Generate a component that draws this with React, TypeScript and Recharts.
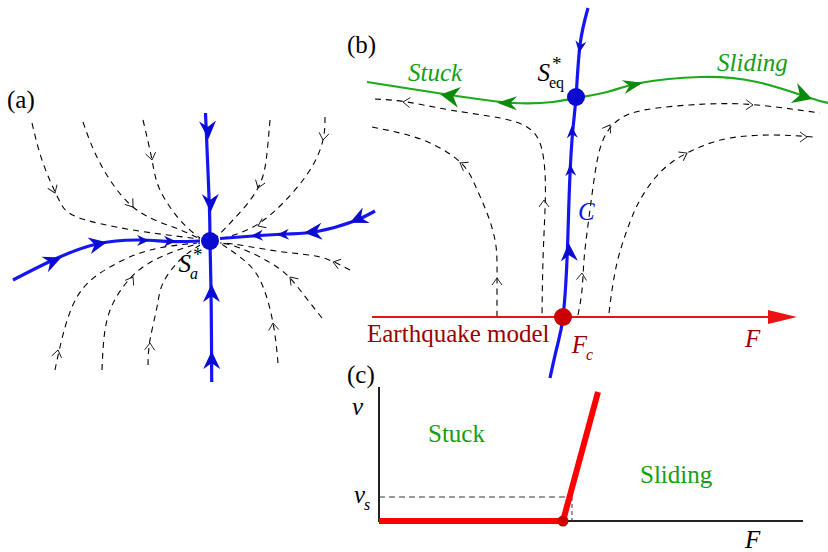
import React from 'react'
import { ComposedChart, Line, Scatter, XAxis, YAxis } from 'recharts'

type Pt = { x: number; y: number }
type Arrow = Pt & { dx: number; dy: number }
type Label = Pt & { text: string; kind: string; sub?: string; sup?: string }

// ---- panel (a): node S_a* ----
const blueUpA: Pt[] = [{ x: 205.5, y: 113 }, { x: 207.5, y: 160 }, { x: 209.5, y: 210 }, { x: 210, y: 241 }]
const blueDownA: Pt[] = [{ x: 210, y: 241 }, { x: 211, y: 290 }, { x: 211.5, y: 340 }, { x: 211.7, y: 382 }]
const blueLeftA: Pt[] = [{ x: 13, y: 280 }, { x: 53, y: 260 }, { x: 97, y: 244 }, { x: 140, y: 240 }, { x: 170, y: 241.5 }, { x: 200, y: 241 }]
const blueRightA: Pt[] = [{ x: 220, y: 238.5 }, { x: 253, y: 236 }, { x: 287, y: 234 }, { x: 317, y: 231.5 }, { x: 353, y: 221.5 }, { x: 375, y: 211 }]

const flowA1: Pt[] = [{ x: 32, y: 123 }, { x: 43, y: 163 }, { x: 58, y: 198 }, { x: 77, y: 217 }, { x: 133, y: 230 }, { x: 200, y: 239 }]
const flowA2: Pt[] = [{ x: 83, y: 122 }, { x: 100, y: 163 }, { x: 133, y: 207 }, { x: 173, y: 227 }, { x: 200, y: 239 }]
const flowA3: Pt[] = [{ x: 143, y: 120 }, { x: 152, y: 160 }, { x: 160, y: 190 }, { x: 180, y: 220 }, { x: 200, y: 238 }]
const flowA4: Pt[] = [{ x: 270, y: 120 }, { x: 267, y: 153 }, { x: 258, y: 188 }, { x: 233, y: 220 }, { x: 217, y: 237 }]
const flowA5: Pt[] = [{ x: 325, y: 117 }, { x: 323, y: 140 }, { x: 310, y: 170 }, { x: 283, y: 203 }, { x: 253, y: 227 }, { x: 220, y: 239 }]
const flowA6: Pt[] = [{ x: 55, y: 370 }, { x: 60, y: 347 }, { x: 77, y: 297 }, { x: 110, y: 267 }, { x: 150, y: 250 }, { x: 197, y: 243 }]
const flowA7: Pt[] = [{ x: 102, y: 370 }, { x: 107, y: 320 }, { x: 123, y: 287 }, { x: 143, y: 267 }, { x: 170, y: 253 }, { x: 200, y: 243 }]
const flowA8: Pt[] = [{ x: 148, y: 365 }, { x: 150, y: 340 }, { x: 157, y: 307 }, { x: 163, y: 283 }, { x: 180, y: 260 }, { x: 200, y: 245 }]
const flowA9: Pt[] = [{ x: 278, y: 363 }, { x: 273, y: 323 }, { x: 260, y: 280 }, { x: 240, y: 257 }, { x: 220, y: 243 }]
const flowA10: Pt[] = [{ x: 322, y: 318 }, { x: 300, y: 290 }, { x: 277, y: 267 }, { x: 240, y: 248 }, { x: 220, y: 243 }]
const flowA11: Pt[] = [{ x: 350, y: 270 }, { x: 320, y: 257 }, { x: 283, y: 252 }, { x: 240, y: 245 }, { x: 220, y: 243 }]

// ---- panel (b): curve C and the equilibrium S_eq* ----
const curveC: Pt[] = [{ x: 588, y: 8 }, { x: 580, y: 45 }, { x: 576, y: 97 }, { x: 572, y: 140 }, { x: 569, y: 200 }, { x: 567, y: 260 }, { x: 563, y: 317 }, { x: 557, y: 347 }, { x: 550, y: 378 }]
const greenCurve: Pt[] = [{ x: 367, y: 82 }, { x: 450, y: 95 }, { x: 513, y: 103 }, { x: 553, y: 102 }, { x: 576, y: 98 }, { x: 607, y: 92 }, { x: 640, y: 83 }, { x: 700, y: 77 }, { x: 757, y: 82 }, { x: 807, y: 97 }, { x: 828, y: 103 }]

const flowB1: Pt[] = [{ x: 375, y: 99 }, { x: 407, y: 102 }, { x: 450, y: 110 }, { x: 500, y: 118 }, { x: 527, y: 127 }, { x: 540, y: 143 }, { x: 545, y: 173 }, { x: 545, y: 210 }, { x: 543, y: 260 }, { x: 542, y: 317 }]
const flowB2: Pt[] = [{ x: 372, y: 127 }, { x: 423, y: 140 }, { x: 460, y: 162 }, { x: 475, y: 185 }, { x: 487, y: 213 }, { x: 495, y: 240 }, { x: 497, y: 263 }, { x: 497, y: 290 }, { x: 497, y: 317 }]
const flowB3: Pt[] = [{ x: 578, y: 315 }, { x: 582, y: 290 }, { x: 584, y: 260 }, { x: 588, y: 225 }, { x: 594, y: 180 }, { x: 603, y: 140 }, { x: 623, y: 117 }, { x: 657, y: 108 }, { x: 707, y: 104 }, { x: 757, y: 105 }, { x: 820, y: 113 }]
const flowB4: Pt[] = [{ x: 609, y: 313 }, { x: 617, y: 263 }, { x: 630, y: 222 }, { x: 640, y: 200 }, { x: 655, y: 178 }, { x: 675, y: 160 }, { x: 700, y: 147 }, { x: 730, y: 138 }, { x: 773, y: 135 }, { x: 813, y: 137 }]

const forceAxis: Pt[] = [{ x: 372, y: 317 }, { x: 775, y: 317 }]
const forceTip: Arrow[] = [{ x: 797, y: 317, dx: 1, dy: 0 }]

// ---- panel (c): friction law ----
const axisV: Pt[] = [{ x: 379, y: 387 }, { x: 379, y: 522 }]
const axisF: Pt[] = [{ x: 379, y: 521 }, { x: 803, y: 521 }]
const frictionLaw: Pt[] = [{ x: 379, y: 521 }, { x: 563, y: 521 }, { x: 598, y: 392 }]
const vsGuideH: Pt[] = [{ x: 379, y: 497 }, { x: 572, y: 497 }]
const vsGuideV: Pt[] = [{ x: 572, y: 497 }, { x: 572, y: 521 }]

// ---- markers ----
const blueNodes: Pt[] = [{ x: 210, y: 241 }, { x: 576, y: 97 }]
const redNodeB: Pt[] = [{ x: 563, y: 317 }]
const redNodeC: Pt[] = [{ x: 563, y: 521 }]

const blueArrowsBig: Arrow[] = [
  { x: 208, y: 130, dx: 0.05, dy: 1 }, { x: 210.5, y: 203, dx: 0.02, dy: 1 },
  { x: 211.5, y: 293, dx: 0, dy: -1 }, { x: 211.7, y: 360, dx: 0, dy: -1 },
  { x: 53, y: 261, dx: 1, dy: -0.42 }, { x: 98, y: 244, dx: 1, dy: -0.2 },
  { x: 313, y: 232, dx: -1, dy: 0.08 }, { x: 358, y: 219, dx: -1, dy: 0.45 },
  { x: 569, y: 252, dx: -0.04, dy: -1 },
]
const blueArrowsSmall: Arrow[] = [
  { x: 143, y: 240.5, dx: 1, dy: 0 }, { x: 170, y: 241.3, dx: 1, dy: 0 },
  { x: 257, y: 235.5, dx: -1, dy: 0.05 }, { x: 283, y: 234.5, dx: -1, dy: 0.05 },
  { x: 580, y: 47, dx: -0.15, dy: 1 }, { x: 572, y: 132, dx: -0.06, dy: -1 }, { x: 570.5, y: 170, dx: -0.05, dy: -1 },
]
const greenArrowsBig: Arrow[] = [{ x: 450, y: 96, dx: -1, dy: -0.15 }, { x: 803, y: 96, dx: 1, dy: 0.32 }]
const greenArrowsSmall: Arrow[] = [{ x: 507, y: 103, dx: -1, dy: -0.03 }, { x: 633, y: 85, dx: 1, dy: -0.22 }]

const flowArrows: Arrow[] = [
  { x: 55, y: 193, dx: 0.4, dy: 1 }, { x: 133, y: 207, dx: 0.75, dy: 1 }, { x: 152, y: 160, dx: 0.2, dy: 1 },
  { x: 258, y: 188, dx: -0.35, dy: 1 }, { x: 323, y: 140, dx: -0.15, dy: 1 }, { x: 258, y: 226, dx: -1, dy: 0.45 },
  { x: 58, y: 350, dx: 0.2, dy: -1 }, { x: 133, y: 277, dx: 0.6, dy: -1 }, { x: 150, y: 343, dx: 0.05, dy: -1 },
  { x: 273, y: 323, dx: -0.1, dy: -1 }, { x: 290, y: 277, dx: -0.9, dy: -1 }, { x: 333, y: 262, dx: -1, dy: -0.3 },
  { x: 403, y: 102, dx: -1, dy: -0.08 }, { x: 544, y: 200, dx: 0, dy: -1 },
  { x: 460, y: 163, dx: -1, dy: -0.6 }, { x: 497, y: 278, dx: 0, dy: -1 },
  { x: 582, y: 273, dx: 0.08, dy: -1 }, { x: 610, y: 125, dx: 0.6, dy: -1 }, { x: 753, y: 105, dx: 1, dy: 0.04 },
  { x: 687, y: 153, dx: 1, dy: -0.55 }, { x: 807, y: 137, dx: 1, dy: 0 },
]

const labels: Label[] = [
  { x: 7, y: 107.5, text: '(a)', kind: 'plain' },
  { x: 347, y: 52.5, text: '(b)', kind: 'plain' },
  { x: 347, y: 382.5, text: '(c)', kind: 'plain' },
  { x: 408, y: 81, text: 'Stuck', kind: 'greenItalic' },
  { x: 717, y: 71, text: 'Sliding', kind: 'greenItalic' },
  { x: 578, y: 220, text: 'C', kind: 'blueItalic' },
  { x: 367, y: 341.5, text: 'Earthquake model', kind: 'darkred' },
  { x: 745, y: 347, text: 'F', kind: 'darkredItalic' },
  { x: 352, y: 415, text: 'v', kind: 'italic' },
  { x: 745, y: 548, text: 'F', kind: 'italic' },
  { x: 428, y: 441.5, text: 'Stuck', kind: 'green' },
  { x: 640, y: 483, text: 'Sliding', kind: 'green' },
]
const scriptLabels: Label[] = [
  { x: 191, y: 272, text: 'S', kind: 'italic', sub: 'a', sup: '*' },
  { x: 550, y: 81, text: 'S', kind: 'italic', sub: 'eq', sup: '*' },
  { x: 587, y: 353, text: 'F', kind: 'darkredItalic', sub: 'c' },
  { x: 365, y: 503, text: 'v', kind: 'italic', sub: 's' },
]

const SERIF = 'Liberation Serif, DejaVu Serif, Times New Roman, serif'
const KIND: Record<string, { color: string; italic: boolean }> = {
  plain: { color: '#000', italic: false },
  italic: { color: '#000', italic: true },
  green: { color: '#12a012', italic: false },
  greenItalic: { color: '#12a012', italic: true },
  blueItalic: { color: '#1212e6', italic: true },
  darkred: { color: '#990000', italic: false },
  darkredItalic: { color: '#990000', italic: true },
}

const BLUE = '#1515f2'
const BLUE_DARK = '#0a0ad0'
const GREEN = '#1caa1c'
const GREEN_DARK = '#0c8a0c'

const stealth = (len: number, wid: number, fill: string) => (props: any) => {
  const { cx, cy, payload } = props
  if (cx == null || cy == null) return <g />
  const a = (Math.atan2(payload.dy, payload.dx) * 180) / Math.PI
  const l = len / 2
  const w = wid / 2
  return (
    <path
      d={`M ${l} 0 L ${-l} ${-w} Q ${-l * 0.55} ${-w * 0.3} ${-l * 0.35} 0 Q ${-l * 0.55} ${w * 0.3} ${-l} ${w} Z`}
      fill={fill}
      transform={`translate(${cx},${cy}) rotate(${a})`}
    />
  )
}

const openArrow = (props: any) => {
  const { cx, cy, payload } = props
  if (cx == null || cy == null) return <g />
  const a = (Math.atan2(payload.dy, payload.dx) * 180) / Math.PI
  return (
    <path d="M -7 -5 L 0 0 L -7 5" fill="none" stroke="#111" strokeWidth={0.9} transform={`translate(${cx},${cy}) rotate(${a})`} />
  )
}

const triangleTip = (props: any) => {
  const { cx, cy } = props
  if (cx == null || cy == null) return <g />
  return <path d="M 0 0 L -29 -7 L -29 7 Z" fill="#ee1111" transform={`translate(${cx},${cy})`} />
}

const dot = (r: number, fill: string) => (props: any) => {
  const { cx, cy } = props
  if (cx == null || cy == null) return <g />
  return <circle cx={cx} cy={cy} r={r} fill={fill} />
}

const textLabel = (props: any) => {
  const { cx, cy, payload } = props
  if (cx == null || cy == null) return <g />
  const k = KIND[payload.kind]
  return (
    <text x={cx} y={cy} fill={k.color} style={{ fontFamily: SERIF, fontSize: 25, fontStyle: k.italic ? 'italic' : 'normal' }}>
      {payload.text}
    </text>
  )
}

const scriptLabel = (props: any) => {
  const { cx, cy, payload } = props
  if (cx == null || cy == null) return <g />
  const k = KIND[payload.kind]
  const subItalic = payload.sub !== 'eq'
  return (
    <g fill={k.color}>
      <text x={cx} y={cy} textAnchor="end" style={{ fontFamily: SERIF, fontSize: 25, fontStyle: k.italic ? 'italic' : 'normal' }}>
        {payload.text}
      </text>
      {payload.sub && (
        <text x={cx - 1} y={cy + 7} style={{ fontFamily: SERIF, fontSize: 16, fontStyle: subItalic ? 'italic' : 'normal' }}>
          {payload.sub}
        </text>
      )}
      {payload.sup && (
        <text x={cx + 2} y={cy - 11.5} style={{ fontFamily: SERIF, fontSize: 19 }}>
          {payload.sup}
        </text>
      )}
    </g>
  )
}

const flowCurves = [flowA1, flowA2, flowA3, flowA4, flowA5, flowA6, flowA7, flowA8, flowA9, flowA10, flowA11, flowB1, flowB2, flowB3, flowB4]
const blueCurves = [blueUpA, blueDownA, blueLeftA, blueRightA]

export default function App() {
  return (
    <div style={{ position: 'absolute', left: 0, top: 0, width: 828, height: 552, background: '#fff' }}>
      <ComposedChart width={828} height={552} margin={{ top: 0, right: 0, bottom: 0, left: 0 }}>
        <XAxis type="number" dataKey="x" domain={[0, 828]} allowDataOverflow hide />
        <YAxis type="number" dataKey="y" domain={[0, 552]} allowDataOverflow reversed hide />

        {/* dashed trajectories */}
        {flowCurves.map((c, i) => (
          <Line key={`f${i}`} data={c} dataKey="y" type="natural" stroke="#000" strokeWidth={1.1} strokeDasharray="6 5" dot={false} activeDot={false} isAnimationActive={false} />
        ))}

        {/* panel (c) */}
        <Line data={axisV} dataKey="y" type="linear" stroke="#222" strokeWidth={2} dot={false} activeDot={false} isAnimationActive={false} />
        <Line data={axisF} dataKey="y" type="linear" stroke="#222" strokeWidth={2} dot={false} activeDot={false} isAnimationActive={false} />
        <Line data={vsGuideH} dataKey="y" type="linear" stroke="#333" strokeWidth={1} strokeDasharray="6 4" dot={false} activeDot={false} isAnimationActive={false} />
        <Line data={vsGuideV} dataKey="y" type="linear" stroke="#333" strokeWidth={1} strokeDasharray="4 3" dot={false} activeDot={false} isAnimationActive={false} />
        <Line data={frictionLaw} dataKey="y" type="linear" stroke="#ff0000" strokeWidth={6} dot={false} activeDot={false} isAnimationActive={false} />

        {/* force axis */}
        <Line data={forceAxis} dataKey="y" type="linear" stroke="#ee1111" strokeWidth={2.2} dot={false} activeDot={false} isAnimationActive={false} />
        <Scatter data={forceTip} shape={triangleTip} isAnimationActive={false} />

        {/* solid orbits */}
        {blueCurves.map((c, i) => (
          <Line key={`b${i}`} data={c} dataKey="y" type="natural" stroke={BLUE} strokeWidth={3.2} dot={false} activeDot={false} isAnimationActive={false} />
        ))}
        <Line data={greenCurve} dataKey="y" type="natural" stroke={GREEN} strokeWidth={2.2} dot={false} activeDot={false} isAnimationActive={false} />
        <Line data={curveC} dataKey="y" type="natural" stroke={BLUE} strokeWidth={3.2} dot={false} activeDot={false} isAnimationActive={false} />

        {/* arrowheads */}
        <Scatter data={flowArrows} shape={openArrow} isAnimationActive={false} />
        <Scatter data={blueArrowsBig} shape={stealth(18, 17, BLUE_DARK)} isAnimationActive={false} />
        <Scatter data={blueArrowsSmall} shape={stealth(12, 11, BLUE_DARK)} isAnimationActive={false} />
        <Scatter data={greenArrowsBig} shape={stealth(19, 21, GREEN_DARK)} isAnimationActive={false} />
        <Scatter data={greenArrowsSmall} shape={stealth(20, 14, GREEN_DARK)} isAnimationActive={false} />

        {/* equilibria */}
        <Scatter data={blueNodes} shape={dot(9, BLUE_DARK)} isAnimationActive={false} />
        <Scatter data={redNodeB} shape={dot(9, '#cc0000')} isAnimationActive={false} />
        <Scatter data={redNodeC} shape={dot(5.5, '#cc0000')} isAnimationActive={false} />

        {/* text */}
        <Scatter data={labels} shape={textLabel} isAnimationActive={false} />
        <Scatter data={scriptLabels} shape={scriptLabel} isAnimationActive={false} />
      </ComposedChart>
    </div>
  )
}
